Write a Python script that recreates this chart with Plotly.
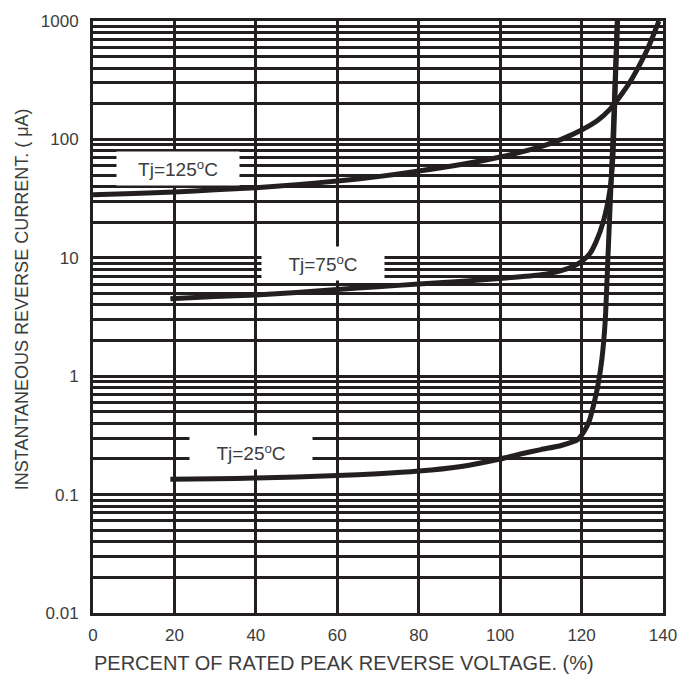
import math
import plotly.graph_objects as go

# ---- data ----
x_125 = [0, 10, 20, 30, 40, 50, 60, 70, 80, 90, 100, 110, 115, 120, 124, 127, 130, 132, 134, 136, 137.5, 139]
y_125 = [34, 35, 36, 37.5, 39, 41.5, 44.5, 48.5, 54, 61, 71, 87, 100, 120, 145, 180, 245, 310, 410, 560, 740, 1000]

x_75 = [19, 30, 40, 50, 60, 70, 80, 90, 100, 110, 115, 118, 120, 122, 123.5, 125.3, 127, 127.7, 128.3, 128.8]
y_75 = [4.5, 4.7, 4.85, 5.1, 5.4, 5.7, 6.0, 6.3, 6.7, 7.2, 7.8, 8.5, 9.3, 10.8, 13.5, 20, 38, 72, 300, 1000]

x_25 = [19, 30, 40, 50, 60, 70, 80, 90, 100, 105, 110, 115, 119, 121, 122, 123, 124, 125, 125.8,
        126.5, 127, 127.7, 128.3, 128.8]
y_25 = [0.135, 0.136, 0.138, 0.141, 0.145, 0.15, 0.158, 0.172, 0.2, 0.22, 0.24, 0.26, 0.29, 0.36,
        0.43, 0.58, 0.83, 1.4, 2.9, 10.6, 27, 100, 350, 1000]

x_ticks = [0, 20, 40, 60, 80, 100, 120, 140]
y_ticks = [0.01, 0.1, 1, 10, 100, 1000]
y_tick_text = ["0.01", "0.1", "1", "10", "100", "1000"]

labels = ["Tj=125<sup>o</sup>C", "Tj=75<sup>o</sup>C", "Tj=25<sup>o</sup>C"]
label_x = [20.9, 56.5, 38.8]
label_y = [57, 8.9, 0.228]

INK = "#231f20"
TXT = "#3c3c3c"
FONT = "Liberation Sans, Arial, sans-serif"

fig = go.Figure()
for xs, ys in [(x_125, y_125), (x_75, y_75), (x_25, y_25)]:
    fig.add_trace(go.Scatter(x=xs, y=ys, mode="lines",
                             line=dict(color=INK, width=5, shape="spline", smoothing=0.6),
                             showlegend=False, hoverinfo="skip"))

for t, lx, ly in zip(labels, label_x, label_y):
    fig.add_annotation(x=lx, y=math.log10(ly), text=t, showarrow=False,
                       bgcolor="white", width=120, height=31,
                       font=dict(family=FONT, size=19, color=TXT))

fig.add_annotation(xref="paper", yref="paper", x=0.5, xshift=-34, y=0, yshift=-50,
                   text="PERCENT OF RATED PEAK REVERSE VOLTAGE. (%)", showarrow=False,
                   xanchor="center", yanchor="middle",
                   font=dict(family=FONT, size=20, color=TXT))
fig.add_annotation(xref="paper", yref="paper", x=0, xshift=-71, y=0.53,
                   text="INSTANTANEOUS REVERSE CURRENT. ( \u03bcA)", showarrow=False,
                   textangle=-90, xanchor="center", yanchor="middle",
                   font=dict(family=FONT, size=18, color=TXT))

fig.update_layout(
    width=692, height=674,
    margin=dict(l=93, r=29, t=13, b=61),
    paper_bgcolor="white", plot_bgcolor="white",
    xaxis=dict(range=[0, 140], tickmode="array", tickvals=x_ticks,
               showgrid=True, gridcolor=INK, gridwidth=2.5,
               showline=True, linecolor=INK, linewidth=3, mirror=True,
               ticks="", zeroline=False, ticklabelstandoff=5,
               tickfont=dict(family=FONT, size=17, color=TXT)),
    yaxis=dict(type="log", range=[-2, 3], tickmode="array", tickvals=y_ticks,
               ticktext=y_tick_text,
               showgrid=True, gridcolor=INK, gridwidth=2.5,
               minor=dict(dtick="D1", showgrid=True, gridcolor=INK, gridwidth=2.5, ticks=""),
               showline=True, linecolor=INK, linewidth=3, mirror=True,
               ticks="", zeroline=False, ticklabelstandoff=8,
               tickfont=dict(family=FONT, size=17, color=TXT)),
)

fig.write_html("out.html")
